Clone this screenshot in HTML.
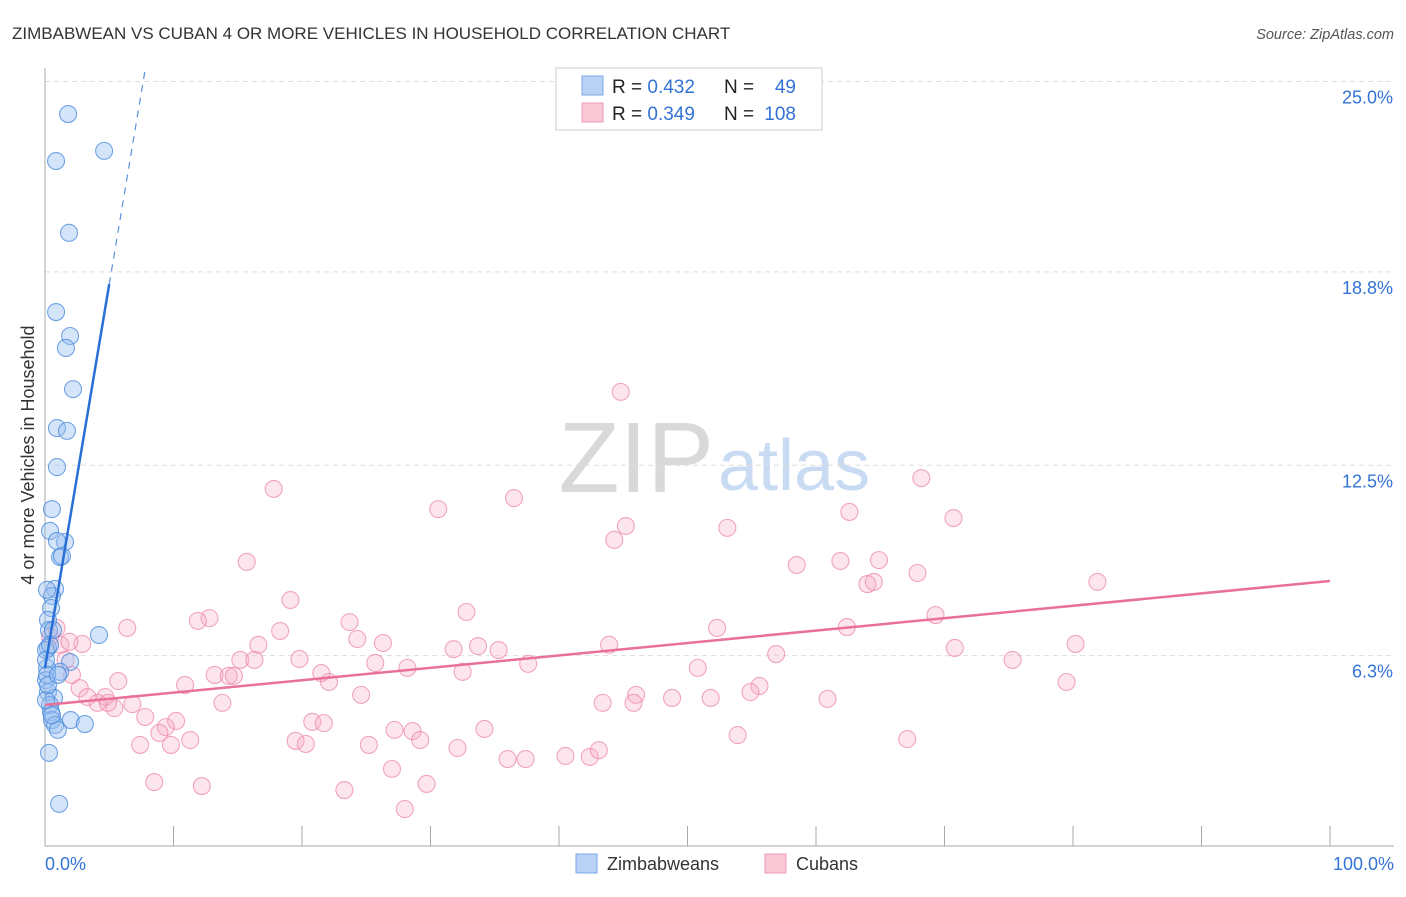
<!DOCTYPE html>
<html><head><meta charset="utf-8"><style>
body{margin:0;background:#fff;font-family:"Liberation Sans",sans-serif;}
svg text{font-family:"Liberation Sans",sans-serif;}
</style></head><body>
<svg id="c" width="1406" height="892" xmlns="http://www.w3.org/2000/svg">
<text x="12" y="39" font-size="17" fill="#333">ZIMBABWEAN VS CUBAN 4 OR MORE VEHICLES IN HOUSEHOLD CORRELATION CHART</text>
<text x="1394" y="39" font-size="14.5" fill="#555" font-style="italic" text-anchor="end">Source: ZipAtlas.com</text>
<text x="714" y="492" font-size="100" fill="#d9d9d9" text-anchor="end" font-family="Liberation Serif">ZIP</text>
<text x="718" y="490" font-size="72" fill="#c8dbf3">atlas</text>
<g id="grid"></g><g id="pts"></g><g id="lines"></g>
<text transform="translate(34,455) rotate(-90)" font-size="18" fill="#333" text-anchor="middle">4 or more Vehicles in Household</text>
<g>
<rect x="556" y="68" width="266" height="62" fill="#fff" stroke="#ccc"/>
<rect x="582" y="76" width="21" height="19" fill="#b8d2f5" stroke="#7aa8e6"/>
<rect x="582" y="103" width="21" height="19" fill="#fac8d6" stroke="#ef9ab4"/>
<text x="612" y="93" font-size="19" fill="#222">R = <tspan fill="#3373d6">0.432</tspan></text>
<text x="724" y="93" font-size="19" fill="#222">N =</text>
<text x="796" y="93" font-size="19" fill="#3373d6" text-anchor="end">49</text>
<text x="612" y="120" font-size="19" fill="#222">R = <tspan fill="#3373d6">0.349</tspan></text>
<text x="724" y="120" font-size="19" fill="#222">N =</text>
<text x="796" y="120" font-size="19" fill="#3373d6" text-anchor="end">108</text>
</g>
<g>
<rect x="576" y="854" width="21" height="19" fill="#b8d2f5" stroke="#7aa8e6"/>
<text x="607" y="870" font-size="18" fill="#333">Zimbabweans</text>
<rect x="765" y="854" width="21" height="19" fill="#fac8d6" stroke="#ef9ab4"/>
<text x="796" y="870" font-size="18" fill="#333">Cubans</text>
</g>
</svg>
<script>
const yTicks=[25.0,18.8,12.5,6.3];
const yTickLabels=["25.0%","18.8%","12.5%","6.3%"];
const xTickLabels=["0.0%","100.0%"];
const blueX=[1.8,0.86,4.6,1.87,0.86,1.95,1.63,2.18,0.93,1.71,0.93,0.54,0.39,1.56,0.93,1.17,1.32,0.78,0.54,0.47,0.23,0.31,4.2,0.23,0.08,1.95,1.17,0.16,0.08,0.23,0.7,0.39,0.47,0.54,0.78,1.0,2.0,3.1,0.31,1.1,0.08,0.16,0.08,0.39,0.54,0.23,0.62,0.16,1.0];
const blueY=[23.94,22.41,22.74,20.07,17.49,16.71,16.32,14.98,13.71,13.62,12.44,11.07,10.36,10.0,10.03,9.51,9.54,8.47,8.24,7.85,7.46,7.13,6.97,6.55,6.48,6.09,5.77,5.9,5.5,5.11,4.92,4.69,4.46,4.2,4.04,3.88,4.2,4.07,3.13,1.47,6.16,5.67,4.85,6.65,4.36,5.34,7.13,8.44,5.67];
const pinkX=[44.8,17.8,68.2,30.6,36.5,45.2,44.3,53.1,62.6,70.7,15.7,58.5,61.9,64.9,64.0,64.5,67.9,81.9,19.1,12.8,11.9,32.8,23.7,6.4,18.3,24.3,16.6,26.3,31.8,33.7,35.3,43.9,52.3,62.4,69.3,70.8,80.2,15.2,16.3,19.8,25.7,28.2,32.5,37.6,21.5,50.8,56.9,75.3,13.2,14.3,14.7,22.1,5.7,10.9,24.6,46.0,43.4,45.8,48.8,51.8,55.6,54.9,60.9,79.5,13.8,6.8,4.7,5.4,7.8,10.2,9.4,20.8,21.7,8.9,11.3,7.4,9.8,19.5,20.3,25.2,27.2,28.6,29.2,34.2,32.1,53.9,67.1,36.0,37.4,40.5,42.4,43.1,27.0,8.5,12.2,23.3,29.7,28.0,0.9,1.2,1.6,2.1,2.7,3.3,4.1,4.9,2.9,1.9,0.4];
const pinkY=[14.89,11.73,12.08,11.07,11.43,10.52,10.07,10.46,10.98,10.78,9.35,9.25,9.38,9.41,8.63,8.7,8.99,8.7,8.11,7.52,7.43,7.72,7.39,7.2,7.1,6.84,6.65,6.71,6.51,6.61,6.48,6.65,7.2,7.23,7.62,6.55,6.68,6.16,6.16,6.19,6.06,5.9,5.77,6.03,5.73,5.9,6.35,6.16,5.67,5.64,5.64,5.44,5.47,5.34,5.02,5.02,4.76,4.76,4.92,4.92,5.31,5.11,4.89,5.44,4.76,4.72,4.95,4.59,4.3,4.17,3.97,4.14,4.1,3.78,3.55,3.39,3.39,3.52,3.42,3.39,3.88,3.84,3.55,3.91,3.29,3.71,3.58,2.93,2.93,3.03,3.0,3.22,2.61,2.18,2.05,1.92,2.12,1.3,7.2,6.65,6.16,5.67,5.24,4.95,4.76,4.76,6.68,6.75,6.91];
const blueTrend=[[0,5.9],[5.0,18.4],[7.8,25.4]];
const pinkTrend=[[0,4.69],[100,8.73]];
const X0=45,X1=1330,YB=849;
const sx=v=>X0+v*(X1-X0)/100, sy=v=>YB-v*30.7;
const NS="http://www.w3.org/2000/svg";
function mk(tag,attrs,parent){const e=document.createElementNS(NS,tag);for(const k in attrs)e.setAttribute(k,attrs[k]);parent.appendChild(e);return e;}
const g=document.getElementById('grid');
yTicks.forEach((t,i)=>{
 const l=mk('line',{x1:X0,x2:1394,y1:sy(t),y2:sy(t),stroke:'#ddd','stroke-dasharray':'5,4'},g);
 
 
 const tx=mk('text',{x:1393,y:sy(t)+22,'font-size':18,fill:'#3373d6','text-anchor':'end'},g);
 tx.textContent=yTickLabels[i];
 
 
});
const ax=mk('line',{x1:X0,x2:X0,y1:68,y2:846,stroke:'#aaa'},g);


const bx=mk('line',{x1:X0,x2:1394,y1:846,y2:846,stroke:'#aaa'},g);


for(let i=1;i<=10;i++){const t=mk('line',{x1:sx(i*10),x2:sx(i*10),y1:826,y2:846,stroke:'#aaa'},g);
 
 }
[[0,'start',45],[100,'end',1394]].forEach((a,i)=>{const t=mk('text',{x:a[2],y:870,'font-size':18,fill:'#3373d6','text-anchor':a[1]},g);t.textContent=xTickLabels[i];
 
 });
const p=document.getElementById('pts');
pinkX.forEach((x,i)=>{const c=mk('circle',{cx:sx(x),cy:sy(pinkY[i]),r:8.5,fill:'rgba(247,170,195,0.3)',stroke:'rgba(235,130,165,0.7)','stroke-width':1.1},p);
 
 });
blueX.forEach((x,i)=>{const c=mk('circle',{cx:sx(x),cy:sy(blueY[i]),r:8.5,fill:'rgba(150,190,240,0.4)',stroke:'rgba(70,135,220,0.75)','stroke-width':1.1},p);
 
 });
const L=document.getElementById('lines');
const b1=mk('line',{x1:sx(blueTrend[0][0]),y1:sy(blueTrend[0][1]),x2:sx(blueTrend[1][0]),y2:sy(blueTrend[1][1]),stroke:'#2a6fd6','stroke-width':2.5},L);


const b2=mk('line',{x1:sx(blueTrend[1][0]),y1:sy(blueTrend[1][1]),x2:sx(blueTrend[2][0]),y2:sy(blueTrend[2][1]),stroke:'#5a90dd','stroke-width':1.2,'stroke-dasharray':'7,6'},L);


const pl=mk('line',{x1:sx(pinkTrend[0][0]),y1:sy(pinkTrend[0][1]),x2:sx(pinkTrend[1][0]),y2:sy(pinkTrend[1][1]),stroke:'#e8709a','stroke-width':2.5},L);


</script>
</body></html>
